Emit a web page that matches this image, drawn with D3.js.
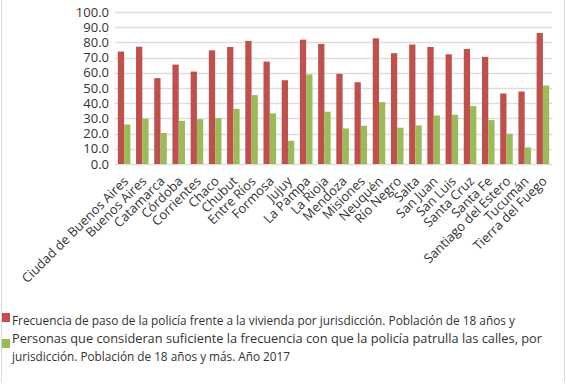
<!DOCTYPE html>
<html><head><meta charset="utf-8">
<script src="https://cdn.jsdelivr.net/npm/d3@7"></script>
<style>
body{margin:0;background:#fff;}
svg{display:block;font-family:"Open Sans",sans-serif;}
</style></head>
<body>
<svg id="chart" width="566" height="392"></svg>
<script>
const categories = ["Ciudad de Buenos Aires","Buenos Aires","Catamarca","Córdoba","Corrientes","Chaco","Chubut","Entre Ríos","Formosa","Jujuy","La Pampa","La Rioja","Mendoza","Misiones","Neuquén","Río Negro","Salta","San Juan","San Luis","Santa Cruz","Santa Fe","Santiago del Estero","Tucumán","Tierra del Fuego"];
const frecuencia = [74.0,77.2,56.5,65.4,60.8,74.8,77.0,81.0,67.4,55.1,81.8,79.0,59.3,53.8,82.7,72.9,78.6,77.0,72.2,75.7,70.5,46.4,47.7,86.2];
const suficiente = [26.0,29.8,20.4,28.4,29.5,30.2,36.3,45.3,33.3,15.3,58.9,34.4,23.4,25.2,40.7,23.9,25.4,31.9,32.4,38.1,28.9,19.9,10.9,51.6];
const yTicks = [0,10,20,30,40,50,60,70,80,90,100];
const legendLines = ["Frecuencia de paso de la policía frente a la vivienda por jurisdicción. Población de 18 años y",
  "Personas que consideran suficiente la frecuencia con que la policía patrulla las calles, por",
  "jurisdicción. Población de 18 años y más. Año 2017"];
const colors = ["#C0504D","#9BBB59"];

const svg = d3.select("#chart");
const plot = {left:115, right:552, top:12, bottom:164};

// frame lines
svg.append("line").attr("x1",1.5).attr("x2",1.5).attr("y1",0).attr("y2",382).attr("stroke","#D9D9D9");
svg.append("line").attr("x1",564.5).attr("x2",564.5).attr("y1",0).attr("y2",382).attr("stroke","#D9D9D9");

const x = d3.scaleBand().domain(categories).range([plot.left, plot.right]).paddingInner(0).paddingOuter(0);
const x1 = d3.scaleBand().domain([0,1]).range([0, x.bandwidth()]).paddingInner(0).paddingOuter(0.45);
const y = d3.scaleLinear().domain([0,100]).range([plot.bottom, plot.top]);

// gridlines
svg.append("g").selectAll("line").data(yTicks).join("line")
  .attr("x1",plot.left).attr("x2",plot.right)
  .attr("y1",d=>Math.round(y(d))+0.5).attr("y2",d=>Math.round(y(d))+0.5)
  .attr("stroke","#DDDDDD").attr("stroke-width",1.5);

// y axis labels
const yAxis = d3.axisLeft(y).tickValues(yTicks).tickFormat(d3.format(".1f")).tickSize(0).tickPadding(0);
const gy = svg.append("g").attr("transform",`translate(109,0)`).call(yAxis);
gy.select(".domain").remove();
gy.selectAll("text").attr("font-family","Open Sans").attr("font-size",13).attr("fill","#333");

// bars
const data = categories.map((c,i)=>({c, v:[frecuencia[i], suficiente[i]]}));
const groups = svg.append("g").selectAll("g").data(data).join("g")
  .attr("transform",d=>`translate(${x(d.c)},0)`);
groups.selectAll("rect").data(d=>d.v.map((v,k)=>({v,k}))).join("rect")
  .attr("x",d=>x1(d.k)).attr("width",x1.bandwidth())
  .attr("y",d=>y(d.v)).attr("height",d=>y(0)-y(d.v))
  .attr("fill",d=>colors[d.k]);

// x axis labels
const xAxis = d3.axisBottom(x).tickSize(0).tickPadding(0);
const gx = svg.append("g").attr("transform",`translate(0,${plot.bottom})`).call(xAxis);
gx.select(".domain").remove();
gx.selectAll("text")
  .attr("font-family","Open Sans").attr("font-size",13).attr("fill","#333")
  .attr("text-anchor","end").attr("dy",0).attr("y",0)
  .attr("transform","translate(5,18) rotate(-45)");

// legend
const legendWidths = [503, 530, 278];
const leg = svg.append("g");
leg.append("rect").attr("x",2).attr("y",313).attr("width",8).attr("height",9).attr("fill",colors[0]);
leg.append("rect").attr("x",2).attr("y",339).attr("width",8).attr("height",9).attr("fill",colors[1]);
leg.selectAll("text").data(legendLines).join("text")
  .attr("x",12).attr("y",(d,i)=>325+i*18)
  .attr("font-size",13).attr("fill","#333")
  .attr("textLength",(d,i)=>legendWidths[i]).attr("lengthAdjust","spacingAndGlyphs")
  .text(d=>d);
</script>
</body></html>
